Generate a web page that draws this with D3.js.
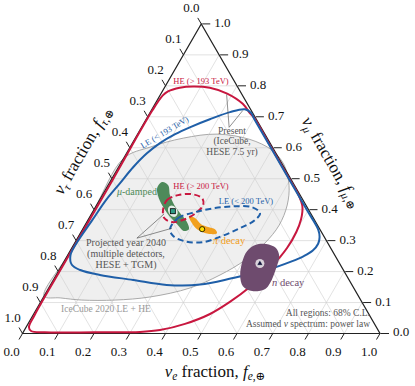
<!DOCTYPE html>
<html>
<head>
<meta charset="utf-8">
<script src="https://cdn.jsdelivr.net/npm/d3@7"></script>
<style>
  body { margin: 0; background: #fff; }
  svg { display: block; font-family: "Liberation Serif", "DejaVu Serif", serif; }
</style>
</head>
<body>
<svg id="chart" width="415" height="386"></svg>
<script>
// ternary points are [f_e, f_mu]; f_tau = 1 - f_e - f_mu
const ticks = [0, 0.1, 0.2, 0.3, 0.4, 0.5, 0.6, 0.7, 0.8, 0.9, 1.0];
const tickLabels = ["0.0", "0.1", "0.2", "0.3", "0.4", "0.5", "0.6", "0.7", "0.8", "0.9", "1.0"];
const gridSteps = [0.1, 0.2, 0.3, 0.4, 0.5, 0.6, 0.7, 0.8, 0.9];

// Present, IceCube HESE 7.5 yr
const heHigh = [[0.003,0.72],[0.008,0.769],[0.016,0.782],[0.043,0.794],[0.078,0.798],[0.127,0.794],
  [0.185,0.775],[0.245,0.742],[0.28,0.712],[0.298,0.698],[0.398,0.598],[0.498,0.498],[0.548,0.448],
  [0.578,0.41],[0.595,0.368],[0.602,0.328],[0.602,0.276],[0.587,0.211],[0.561,0.15],[0.529,0.102],
  [0.493,0.063],[0.439,0.031],[0.379,0.011],[0.326,0.005],[0.2,0.004],[0.06,0.004],[0.02,0.008],
  [0.008,0.02],[0.004,0.06],[0.004,0.3],[0.004,0.5]];
const leLow = [[0.005,0.29],[0.012,0.366],[0.018,0.431],[0.030,0.486],[0.041,0.537],[0.057,0.582],
  [0.077,0.615],[0.105,0.644],[0.135,0.666],[0.178,0.692],[0.223,0.715],[0.26,0.724],[0.284,0.712],
  [0.298,0.697],[0.398,0.597],[0.498,0.497],[0.598,0.397],[0.66,0.335],[0.675,0.312],[0.682,0.29],
  [0.678,0.268],[0.662,0.25],[0.635,0.232],[0.581,0.205],[0.499,0.179],[0.418,0.158],[0.325,0.157],
  [0.223,0.173],[0.122,0.189],[0.059,0.205],[0.027,0.222],[0.008,0.252]];
// IceCube 2020 LE + HE
const ic2020 = [[0.0,0.566],[0.056,0.602],[0.134,0.631],[0.222,0.644],[0.322,0.627],[0.402,0.592],
  [0.46,0.544],[0.506,0.479],[0.533,0.415],[0.543,0.35],[0.532,0.292],[0.504,0.237],[0.458,0.189],
  [0.395,0.147],[0.298,0.118],[0.205,0.108],[0.112,0.108],[0.048,0.115],[0.0,0.121],
  [0.0,0.25],[0.0,0.4]];
// Projected 2040
const he2040 = [[0.194,0.398],[0.189,0.431],[0.212,0.447],[0.249,0.45],[0.284,0.437],[0.298,0.415],
  [0.292,0.392],[0.27,0.369],[0.238,0.36],[0.21,0.373]];
const le2040 = [[0.244,0.337],[0.249,0.373],[0.287,0.392],[0.336,0.405],[0.389,0.411],[0.438,0.408],
  [0.47,0.389],[0.467,0.366],[0.438,0.34],[0.401,0.315],[0.357,0.295],[0.305,0.298],[0.264,0.315]];
const muDamped = [[0.146,0.489],[0.168,0.479],[0.189,0.447],[0.217,0.415],[0.246,0.389],[0.28,0.36],
  [0.297,0.337],[0.286,0.331],[0.256,0.353],[0.225,0.376],[0.193,0.405],[0.163,0.437],[0.142,0.469]];
const piDecay = [[0.276,0.379],[0.296,0.373],[0.323,0.353],[0.347,0.344],[0.37,0.337],[0.382,0.324],
  [0.367,0.321],[0.341,0.327],[0.315,0.34],[0.292,0.36]];
const nDecay = [[0.495,0.266],[0.508,0.286],[0.537,0.289],[0.571,0.276],[0.593,0.25],[0.604,0.211],
  [0.611,0.163],[0.607,0.144],[0.574,0.137],[0.54,0.153],[0.516,0.186],[0.499,0.231]];
// source benchmarks at Earth
const benchMu = [0.223, 0.395];
const benchPi = [0.334, 0.337];
const benchN = [0.551, 0.226];

const presentPointer = [[0.185,0.772],[0.245,0.666],[0.256,0.72]];
const projPointer = [[0.203,0.386],[0.166,0.308],[0.248,0.34]];

const svg = d3.select("#chart");

const sx = d3.scaleLinear().domain([0, 1]).range([22.5, 380]);
const sy = d3.scaleLinear().domain([0, 1]).range([333.5, 23.9]);
const P = d => [sx(d[0] + d[1] / 2), sy(d[1])];

const closed = d3.line().x(d => P(d)[0]).y(d => P(d)[1]).curve(d3.curveCatmullRomClosed.alpha(0.5));
const straight = d3.line().x(d => P(d)[0]).y(d => P(d)[1]);

const red = "#c8173f", blue = "#1f5fa8";

// IceCube 2020 fill
svg.append("path").attr("d", closed(ic2020)).attr("fill", "#efefef");

// grid
const grid = svg.append("g").attr("stroke", "#cfcfcf").attr("stroke-width", 0.6).attr("fill", "none");
gridSteps.forEach(t => {
  grid.append("path").attr("d", straight([[t, 0], [t, 1 - t]]));
  grid.append("path").attr("d", straight([[0, t], [1 - t, t]]));
  grid.append("path").attr("d", straight([[0, 1 - t], [1 - t, 0]]));
});

svg.append("path").attr("d", closed(ic2020)).attr("fill", "none")
  .attr("stroke", "#a0a0a0").attr("stroke-width", 0.9);

// frame
svg.append("path").attr("d", straight([[0, 0], [1, 0], [0, 1]]) + "Z")
  .attr("fill", "none").attr("stroke", "#222").attr("stroke-width", 1.2);

// ticks
const tickG = svg.append("g").attr("stroke", "#222").attr("stroke-width", 1);
const labG = svg.append("g").attr("font-size", 13).attr("fill", "#111");
ticks.forEach((t, i) => {
  // bottom: f_e
  let p = P([t, 0]);
  tickG.append("line").attr("x1", p[0]).attr("y1", p[1]).attr("x2", p[0] - 3.5).attr("y2", p[1] + 6);
  labG.append("text").attr("x", p[0] - 11).attr("y", p[1] + 20).attr("text-anchor", "middle")
    .attr("dominant-baseline", "middle").text(tickLabels[i]);
  // right: f_mu
  p = P([1 - t, t]);
  tickG.append("line").attr("x1", p[0] + 1).attr("y1", p[1]).attr("x2", p[0] + 9).attr("y2", p[1]);
  labG.append("text").attr("x", p[0] + 13).attr("y", p[1]).attr("dominant-baseline", "middle").text(tickLabels[i]);
  // left: f_tau
  p = P([0, 1 - t]);
  tickG.append("line").attr("x1", p[0]).attr("y1", p[1]).attr("x2", p[0] - 3.5).attr("y2", p[1] - 6);
  labG.append("text").attr("x", p[0] - 10).attr("y", p[1] - 14.5).attr("text-anchor", "middle")
    .attr("dominant-baseline", "middle").text(tickLabels[i]);
});

// present contours
svg.append("path").attr("d", closed(heHigh)).attr("fill", "none").attr("stroke", red).attr("stroke-width", 2);
svg.append("path").attr("d", closed(leLow)).attr("fill", "none").attr("stroke", blue).attr("stroke-width", 2);

// source blobs
svg.append("path").attr("d", closed(muDamped)).attr("fill", "#4e8a5a");
svg.append("path").attr("d", closed(piDecay)).attr("fill", "#f2a01e");
svg.append("path").attr("d", closed(nDecay)).attr("fill", "#6e4b6e");

// projected contours
svg.append("path").attr("d", closed(he2040)).attr("fill", "none").attr("stroke", red)
  .attr("stroke-width", 2).attr("stroke-dasharray", "6,3.5");
svg.append("path").attr("d", closed(le2040)).attr("fill", "none").attr("stroke", blue)
  .attr("stroke-width", 2).attr("stroke-dasharray", "6,3.5");

// pointer lines
const ptr = svg.append("g").attr("stroke", "#444").attr("stroke-width", 0.6).attr("fill", "none");
ptr.append("path").attr("d", straight(presentPointer));
ptr.append("path").attr("d", straight(projPointer));

// benchmark markers
let m = P(benchMu);
svg.append("ellipse").attr("cx", m[0]).attr("cy", m[1]).attr("rx", 4.5).attr("ry", 6)
  .attr("transform", `rotate(-30,${m[0]},${m[1]})`).attr("fill", "#fff").attr("opacity", 0.85);
svg.append("rect").attr("x", m[0] - 2.5).attr("y", m[1] - 2.5).attr("width", 5).attr("height", 5)
  .attr("fill", "#2e9c86").attr("stroke", "#000").attr("stroke-width", 0.8);
m = P(benchPi);
svg.append("circle").attr("cx", m[0]).attr("cy", m[1]).attr("r", 2.6)
  .attr("fill", "#ffe000").attr("stroke", "#000").attr("stroke-width", 0.8);
m = P(benchN);
svg.append("ellipse").attr("cx", m[0]).attr("cy", m[1]).attr("rx", 4.5).attr("ry", 4.5)
  .attr("fill", "#fff").attr("opacity", 0.75);
svg.append("path").attr("d", d3.symbol(d3.symbolTriangle, 16)())
  .attr("transform", `translate(${m[0]},${m[1]})`).attr("fill", "#15163d").attr("stroke", "#fff").attr("stroke-width", 0.5);

// annotation texts
function txt(x, y, s, size, color, anchor) {
  return svg.append("text").attr("x", x).attr("y", y).attr("font-size", size).attr("fill", color)
    .attr("text-anchor", anchor || "middle").attr("dominant-baseline", "middle").text(s);
}
txt(201, 82, "HE (> 193 TeV)", 8.5, red);
txt(165, 133, "LE (< 193 TeV)", 8.5, blue).attr("transform", "rotate(-31,165,133)");
txt(232, 131.5, "Present", 9.5, "#555");
txt(232, 142, "(IceCube,", 9.5, "#555");
txt(232, 152.5, "HESE 7.5 yr)", 9.5, "#555");
txt(201, 187, "HE (> 200 TeV)", 8.5, red);
txt(246, 202, "LE (< 200 TeV)", 8.5, blue);
txt(157, 192.5, "", 10, "#4e8a5a", "end")
  .call(t => { t.append("tspan").attr("font-style", "italic").text("μ"); t.append("tspan").text("-damped"); });
txt(229, 242, "", 10.5, "#f2a01e")
  .call(t => { t.append("tspan").attr("font-style", "italic").text("π"); t.append("tspan").text(" decay"); });
txt(272, 284, "", 10.5, "#6e4b6e", "start")
  .call(t => { t.append("tspan").attr("font-style", "italic").text("n"); t.append("tspan").text(" decay"); });
txt(126, 244, "Projected year 2040", 10, "#555");
txt(126, 255, "(multiple detectors,", 10, "#555");
txt(126, 266, "HESE + TGM)", 10, "#555");
txt(106, 310, "IceCube 2020 LE + HE", 9.5, "#999");
txt(370, 314, "All regions: 68% C.L.", 9.5, "#555", "end");
txt(370, 325, "", 9.5, "#555", "end")
  .call(t => {
    t.append("tspan").text("Assumed ");
    t.append("tspan").attr("font-style", "italic").text("ν");
    t.append("tspan").text(" spectrum: power law");
  });

// axis titles
function axisTitle(x, y, rot, sub) {
  const t = svg.append("text").attr("font-size", 17).attr("fill", "#111").attr("text-anchor", "middle")
    .attr("transform", `translate(${x},${y}) rotate(${rot})`).attr("dy", "0.35em");
  t.append("tspan").attr("font-style", "italic").text("ν");
  t.append("tspan").attr("font-size", 11.5).attr("font-style", "italic").attr("dy", 3.5).text(sub);
  t.append("tspan").attr("dy", -3.5).text(" fraction, ");
  t.append("tspan").attr("font-style", "italic").text("f");
  t.append("tspan").attr("font-size", 11.5).attr("dy", 3.5)
    .call(s => { s.append("tspan").attr("font-style", "italic").text(sub); s.append("tspan").text(",⊕"); });
}
axisTitle(215, 371, 0, "e");
axisTitle(82, 150, -60, "τ");
axisTitle(332, 162, 60, "μ");
</script>
</body>
</html>
